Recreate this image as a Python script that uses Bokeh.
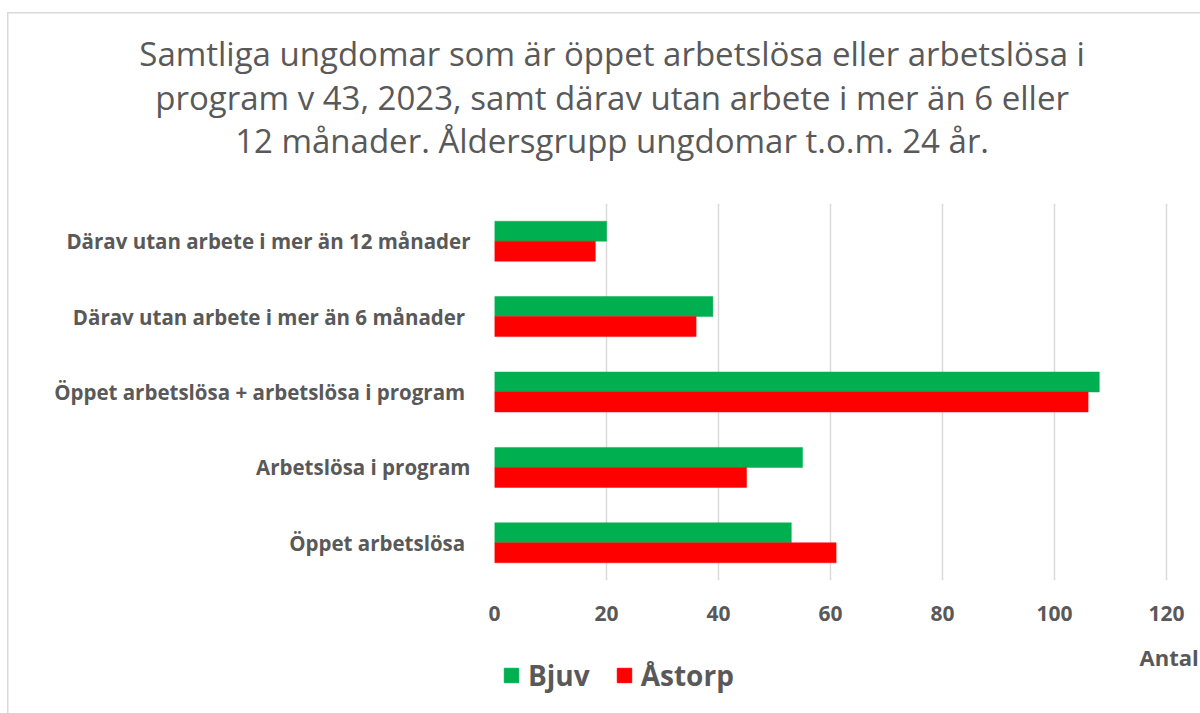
from bokeh.plotting import figure
from bokeh.layouts import column
from bokeh.models import (ColumnDataSource, FactorRange, Range1d, FixedTicker,
                          Legend, LegendItem, LinearAxis, Label)
from bokeh.transform import dodge
from bokeh.embed import file_html
from bokeh.resources import INLINE

# ---- data ----
categories = [
    "Öppet arbetslösa ",
    "Arbetslösa i program",
    "Öppet arbetslösa + arbetslösa i program ",
    "Därav  utan arbete i mer än 6 månader",
    "Därav utan arbete i mer än 12 månader",
]
bjuv = [53, 55, 108, 39, 20]
astorp = [61, 45, 106, 36, 18]
x_ticks = [0, 20, 40, 60, 80, 100, 120]
series_names = ["Bjuv", "Åstorp"]
series_colors = ["#00b050", "#ff0000"]
title_lines = [
    "Samtliga ungdomar som är öppet arbetslösa eller arbetslösa i",
    "program v 43, 2023, samt därav utan arbete i mer än 6 eller",
    "12 månader. Åldersgrupp ungdomar t.o.m. 24 år.",
]
x_axis_title = "Antal"

# ---- layout constants ----
W = 1200
H_MAIN, H_LEG = 640, 73
FRAME_LEFT, FRAME_TOP, FRAME_BOTTOM = 494, 203, 580
PX_PER_UNIT = 5.6
X_END = (W - FRAME_LEFT) / PX_PER_UNIT
TITLE_CENTER = 21      # value-axis position under the title centre
GREY = "#595959"
FONT = "Open Sans"
LINE = "linear-gradient(#d9d9d9, #d9d9d9)"

source = ColumnDataSource(dict(cat=categories, bjuv=bjuv, astorp=astorp))
x_range = Range1d(0, X_END)

p = figure(width=W, height=H_MAIN, y_range=FactorRange(*categories),
           x_range=x_range, output_backend="svg", toolbar_location=None,
           min_border_left=FRAME_LEFT, min_border_right=0,
           min_border_top=FRAME_TOP, min_border_bottom=H_MAIN - FRAME_BOTTOM,
           title=None)

bar_h = 0.265
r1 = p.hbar(y=dodge("cat", bar_h / 2, range=p.y_range), left=0, right="bjuv",
            height=bar_h, fill_color=series_colors[0], line_color=series_colors[0],
            line_width=0.5, source=source)
r2 = p.hbar(y=dodge("cat", -bar_h / 2, range=p.y_range), left=0, right="astorp",
            height=bar_h, fill_color=series_colors[1], line_color=series_colors[1],
            line_width=0.5, source=source)

p.outline_line_color = None
p.background_fill_color = "white"
p.border_fill_color = None
p.styles = {"background": f"{LINE} 7px 12px / 1.5px 100% no-repeat, "
                          f"{LINE} 7px 12px / 100% 1.5px no-repeat, #ffffff"}
p.ygrid.grid_line_color = None
p.xgrid.ticker = FixedTicker(ticks=x_ticks)
p.xgrid.grid_line_color = "#d9d9d9"
p.xgrid.grid_line_width = 1.5
p.xgrid.level = "underlay"


def plain_axis(ax):
    ax.axis_line_color = None
    ax.major_tick_line_color = None
    ax.minor_tick_line_color = None
    ax.major_tick_out = 0
    ax.major_tick_in = 0
    ax.minor_tick_out = 0
    ax.minor_tick_in = 0
    ax.major_label_text_color = GREY
    ax.major_label_text_font = FONT


xa = p.xaxis[0]
plain_axis(xa)
xa.ticker = FixedTicker(ticks=x_ticks)
xa.major_label_text_font_style = "bold"
xa.major_label_text_font_size = "21px"
xa.major_label_standoff = 25

ya = p.yaxis[0]
plain_axis(ya)
ya.major_label_text_font_style = "bold"
ya.major_label_text_font_size = "20.5px"
ya.major_label_standoff = 24

# chart title: three centred lines above the plot (bottom line nearest the plot)
title_standoffs = [-4, -5, 41]
for line, so in reversed(list(zip(title_lines, title_standoffs))):
    tax = LinearAxis(ticker=FixedTicker(ticks=[TITLE_CENTER]),
                     major_label_overrides={TITLE_CENTER: line})
    plain_axis(tax)
    tax.major_label_text_font_style = "normal"
    tax.major_label_text_font_size = "33px"
    tax.major_label_standoff = so
    p.add_layout(tax, "above")

# ---- bottom strip: legend and axis title ----
q = figure(width=W, height=H_LEG, x_range=x_range, y_range=Range1d(0, H_LEG),
           output_backend="svg", toolbar_location=None,
           x_axis_location=None, y_axis_location=None,
           min_border_left=FRAME_LEFT, min_border_right=0,
           min_border_top=0, min_border_bottom=0, title=None)
q.outline_line_color = None
q.grid.visible = False
q.background_fill_color = None
q.border_fill_color = None
q.styles = {"background": f"{LINE} 7px 0px / 1.5px 100% no-repeat, #ffffff"}
# off-screen range: the legend's own copies of the bars are never visible here
q.extra_y_ranges = {"off": Range1d(10000, 20000)}

k1 = q.hbar(y="bjuv", left=0, right="bjuv", height=1, fill_color=series_colors[0],
            line_color=series_colors[0], source=source, y_range_name="off")
k2 = q.hbar(y="astorp", left=0, right="astorp", height=1, fill_color=series_colors[1],
            line_color=series_colors[1], source=source, y_range_name="off")

legend = Legend(items=[LegendItem(label=series_names[0], renderers=[k1]),
                       LegendItem(label=series_names[1], renderers=[k2])],
                orientation="horizontal", location=(8, 19),
                border_line_color=None, background_fill_alpha=0,
                padding=0, margin=0, spacing=25, label_standoff=8,
                glyph_width=18, glyph_height=18,
                label_text_font=FONT, label_text_font_size="28px",
                label_text_font_style="bold", label_text_color=GREY)
q.add_layout(legend)

q.add_layout(Label(x=(1139 - FRAME_LEFT) / PX_PER_UNIT, y=H_LEG - (656 - H_MAIN),
                   text=x_axis_title, text_align="left", text_baseline="middle",
                   text_font=FONT, text_font_size="22px", text_font_style="bold",
                   text_color=GREY))

open("out.html", "w").write(file_html(column(p, q, spacing=0), INLINE))
